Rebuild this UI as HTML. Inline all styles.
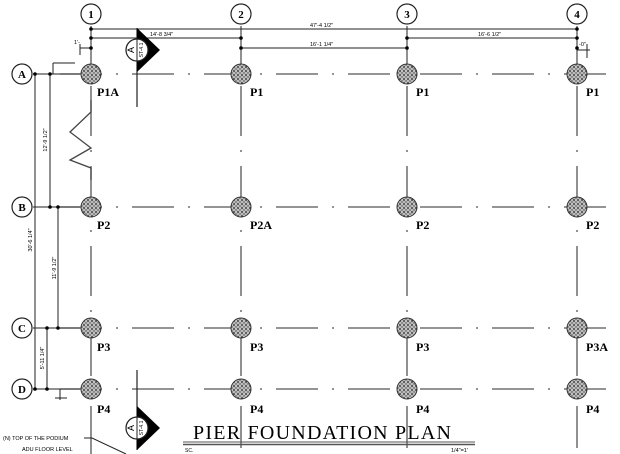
<!DOCTYPE html>
<html><head><meta charset="utf-8"><style>
html,body{margin:0;padding:0;background:#fff;width:620px;height:454px;overflow:hidden}
</style></head><body>
<svg width="620" height="454" viewBox="0 0 620 454" xmlns="http://www.w3.org/2000/svg" font-family="Liberation Sans, sans-serif">
<defs>
<pattern id="st" width="4" height="4" patternUnits="userSpaceOnUse">
<rect width="4" height="4" fill="#bbb"/><circle cx="1" cy="1" r="0.9" fill="#222"/><circle cx="3" cy="3" r="0.7" fill="#444"/><circle cx="3" cy="1" r="0.4" fill="#fff"/>
</pattern>
<g id="pier"><circle r="10" fill="url(#st)" stroke="#333" stroke-width="1"/></g>
</defs>
<g stroke="#555" stroke-width="1.3" fill="none">
<g stroke-dasharray="42 14 2 14">
<line x1="60" y1="74" x2="620" y2="74"/>
<line x1="60" y1="207" x2="620" y2="207"/>
<line x1="60" y1="328" x2="620" y2="328"/>
<line x1="60" y1="389" x2="620" y2="389"/>
</g>
<g stroke-dasharray="50 14 2 14">
<line x1="91" y1="86" x2="91" y2="454"/>
<line x1="241" y1="86" x2="241" y2="448"/>
<line x1="407" y1="86" x2="407" y2="448"/>
<line x1="577" y1="86" x2="577" y2="448"/>
</g>
<line x1="91" y1="26" x2="91" y2="74"/>
<line x1="241" y1="26" x2="241" y2="74"/>
<line x1="407" y1="26" x2="407" y2="74"/>
<line x1="577" y1="26" x2="577" y2="74"/>
<polyline points="91,100 91,112 70,132 91,148 70,160 91,168 91,180" stroke="#444"/>
</g>
<g stroke="#222" stroke-width="1">
<line x1="91" y1="29" x2="577" y2="29"/>
<line x1="91" y1="38" x2="241" y2="38"/>
<line x1="407" y1="38" x2="577" y2="38"/>
<line x1="241" y1="48" x2="407" y2="48"/>
<line x1="80" y1="48" x2="91" y2="48"/>
<line x1="577" y1="50" x2="590" y2="50"/>
<line x1="587" y1="44" x2="587" y2="58"/>
<line x1="80" y1="44" x2="80" y2="55"/>
<line x1="35" y1="74" x2="35" y2="389"/>
<line x1="50" y1="74" x2="50" y2="207"/>
<line x1="58" y1="207" x2="58" y2="328"/>
<line x1="47" y1="328" x2="47" y2="389"/>
<line x1="33" y1="74" x2="80" y2="74"/>
<line x1="33" y1="207" x2="80" y2="207"/>
<line x1="33" y1="328" x2="80" y2="328"/>
<line x1="33" y1="389" x2="80" y2="389"/>
<line x1="53" y1="63" x2="75" y2="63"/>
<line x1="53" y1="63" x2="53" y2="74"/>
<line x1="60" y1="389" x2="60" y2="400"/>
<line x1="55" y1="398" x2="67" y2="398"/>
</g>
<g fill="#000">
<circle cx="91" cy="29" r="1.8"/><circle cx="577" cy="29" r="1.8"/>
<circle cx="91" cy="38" r="1.8"/><circle cx="241" cy="38" r="1.8"/><circle cx="407" cy="38" r="1.8"/><circle cx="577" cy="38" r="1.8"/>
<circle cx="241" cy="48" r="1.8"/><circle cx="407" cy="48" r="1.8"/><circle cx="91" cy="48" r="1.8"/><circle cx="577" cy="48" r="1.8"/>
<circle cx="35" cy="74" r="1.8"/><circle cx="50" cy="74" r="1.8"/><circle cx="50" cy="207" r="1.8"/><circle cx="58" cy="207" r="1.8"/>
<circle cx="58" cy="328" r="1.8"/><circle cx="47" cy="328" r="1.8"/><circle cx="47" cy="389" r="1.8"/><circle cx="35" cy="389" r="1.8"/>
</g>
<g font-size="5.5" fill="#000">
<text x="150" y="36">14'-8 3/4"</text>
<text x="310" y="27">47'-4 1/2"</text>
<text x="310" y="46">16'-1 1/4"</text>
<text x="478" y="36">16'-6 1/2"</text>
<text x="579" y="46">-0"</text>
<text x="74" y="44">1'-</text>
<text transform="translate(47,140) rotate(-90)" text-anchor="middle">12'-9 1/2"</text>
<text transform="translate(32,240) rotate(-90)" text-anchor="middle">30'-6 1/4"</text>
<text transform="translate(56,268) rotate(-90)" text-anchor="middle">11'-9 1/2"</text>
<text transform="translate(44,358) rotate(-90)" text-anchor="middle">5'-11 1/4"</text>
</g>
<g fill="#fff" stroke="#222" stroke-width="1.2">
<circle cx="91" cy="14" r="10"/><circle cx="241" cy="14" r="10"/><circle cx="407" cy="14" r="10"/><circle cx="577" cy="14" r="10"/>
<circle cx="22" cy="74" r="10"/><circle cx="22" cy="207" r="10"/><circle cx="22" cy="328" r="10"/><circle cx="22" cy="389" r="10"/>
</g>
<g font-size="11" font-weight="bold" text-anchor="middle" fill="#000" font-family="Liberation Serif, serif">
<text x="91" y="18">1</text><text x="241" y="18">2</text><text x="407" y="18">3</text><text x="577" y="18">4</text>
<text x="22" y="78">A</text><text x="22" y="211">B</text><text x="22" y="332">C</text><text x="22" y="393">D</text>
</g>
<g>
<line x1="137" y1="28" x2="137" y2="107" stroke="#222" stroke-width="1.2"/>
<path d="M137,28 L160,50 L137,72 Z" fill="#000"/>
<circle cx="137" cy="50" r="11" fill="#fff" stroke="#222" stroke-width="1.2"/>
<line x1="137" y1="39" x2="137" y2="61" stroke="#222"/>
<text transform="translate(134,50) rotate(-90)" text-anchor="middle" font-size="9" fill="#000">A</text>
<text transform="translate(143,50) rotate(-90)" text-anchor="middle" font-size="5" fill="#000">ST-4.1</text>
</g>
<g transform="translate(0,378)">
<line x1="137" y1="-8" x2="137" y2="72" stroke="#222" stroke-width="1.2"/>
<path d="M137,28 L160,50 L137,72 Z" fill="#000"/>
<circle cx="137" cy="50" r="11" fill="#fff" stroke="#222" stroke-width="1.2"/>
<line x1="137" y1="39" x2="137" y2="61" stroke="#222"/>
<text transform="translate(134,50) rotate(-90)" text-anchor="middle" font-size="9" fill="#000">A</text>
<text transform="translate(143,50) rotate(-90)" text-anchor="middle" font-size="5" fill="#000">ST-4.1</text>
</g>
<g>
<use href="#pier" x="91" y="74"/><use href="#pier" x="241" y="74"/><use href="#pier" x="407" y="74"/><use href="#pier" x="577" y="74"/>
<use href="#pier" x="91" y="207"/><use href="#pier" x="241" y="207"/><use href="#pier" x="407" y="207"/><use href="#pier" x="577" y="207"/>
<use href="#pier" x="91" y="328"/><use href="#pier" x="241" y="328"/><use href="#pier" x="407" y="328"/><use href="#pier" x="577" y="328"/>
<use href="#pier" x="91" y="389"/><use href="#pier" x="241" y="389"/><use href="#pier" x="407" y="389"/><use href="#pier" x="577" y="389"/>
</g>
<g font-family="Liberation Serif, serif" font-size="12" font-weight="bold" fill="#000">
<text x="97" y="96">P1A</text><text x="250" y="96">P1</text><text x="416" y="96">P1</text><text x="586" y="96">P1</text>
<text x="97" y="229">P2</text><text x="250" y="229">P2A</text><text x="416" y="229">P2</text><text x="586" y="229">P2</text>
<text x="97" y="351">P3</text><text x="250" y="351">P3</text><text x="416" y="351">P3</text><text x="586" y="351">P3A</text>
<text x="97" y="413">P4</text><text x="250" y="413">P4</text><text x="416" y="413">P4</text><text x="586" y="413">P4</text>
</g>
<text x="193" y="439" font-family="Liberation Serif, serif" font-size="20" fill="#000" textLength="258" lengthAdjust="spacing">PIER  FOUNDATION  PLAN</text>
<line x1="183" y1="442" x2="475" y2="442" stroke="#555" stroke-width="1"/>
<line x1="183" y1="444.5" x2="475" y2="444.5" stroke="#555" stroke-width="1.5"/>
<text x="185" y="452" font-size="5" fill="#000">SC.</text>
<text x="451" y="452" font-size="5.5" fill="#000">1/4"=1'</text>
<g font-size="5.5" fill="#000">
<text x="3" y="440">(N) TOP OF THE PODIUM</text>
<text x="22" y="451">ADU FLOOR LEVEL</text>
</g>
<polyline points="84,438 92,438 126,454" fill="none" stroke="#222" stroke-width="1"/>
</svg>
</body></html>
